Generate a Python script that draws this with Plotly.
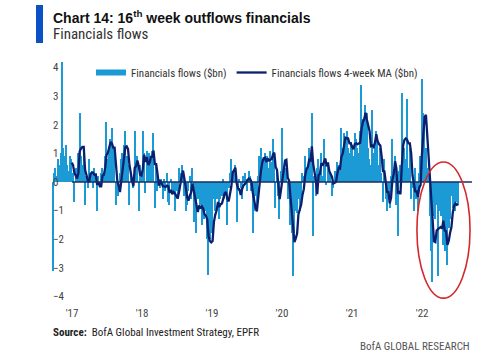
import pandas as pd
import plotly.graph_objects as go

# Weekly financials flows ($bn), first week = 2016-09-23
flows_2016 = [-3.1, 0.3, 0.5, 0.2, 0.8, 0.6, 1.0, 4.2, 1.2, 0.9, 1.3, 0.6, 0.4, 0.9]
flows_2017 = [0.8, 0.3, -0.7, 0.5, 0.4, 1.0, 2.4, 0.9, 0.6, 1.0, -0.8, 0.2, -0.2, 0.8,
              0.3, 0.4, -0.2, 0.5, 0.3, -1.0, 0.2, -0.1, 0.3, 0.5, 0.3, 0.9, 2.1, 0.8,
              1.2, 1.5, 1.9, 0.2, 1.2, -0.8, -0.4, -0.5, 0.3, 0.8, 1.0, 1.3, 1.8, 0.9,
              0.6, -0.8, 0.3, 0.1, -0.2, 1.8, 0.5, 0.9, -1.0, 0.6]
flows_2018 = [0.4, 1.8, 1.0, -0.4, 1.1, 0.8, 1.0, 0.6, 1.1, 1.7, -0.9, 0.6, -0.3, 0.1,
              -0.2, 0.1, -0.6, 0.1, -0.3, 0.3, -0.7, -0.8, 0.1, -0.3, -0.4, -1.0, -0.3,
              -0.6, 0.5, 0.3, 0.6, 0.2, -0.5, -1.0, -0.8, -0.3, 0.2, -0.6, 0.5, -1.4,
              -0.4, -1.8, -0.6, -0.5, -0.8, -1.5, -0.9, -1.3, -1.0, -2.0, -3.25, -2.0]
flows_2019 = [-1.2, -1.8, -0.6, -1.0, -0.6, -0.6, -1.3, -0.6, -0.5, 0.1, -0.6, -0.4,
              -1.5, -0.2, 0.3, 0.8, 0.4, 0.2, 0.6, -1.4, -0.3, 0.1, -0.2, -0.6, 0.2, 0.3,
              0.1, -0.3, 0.4, 0.2, -0.3, -1.8, -1.0, -0.5, -0.8, 0.2, 0.9, 1.2, 0.4, 0.8,
              1.0, 0.6, 0.9, 0.5, 1.1, 0.7, 1.5, 0.8, -0.9, 0.3, -0.5, -1.3]
flows_2020 = [0.4, 1.9, 0.2, 0.5, 0.5, -0.6, -0.2, -1.5, -1.8, -3.3, -1.8, -1.0, -1.1,
              -0.6, -1.0, -0.5, 0.3, 0.2, 0.9, 0.4, 0.6, 1.2, 0.8, 2.4, -1.9, 0.2, -0.5,
              0.5, 0.8, 0.3, 1.0, 0.2, 1.5, 0.6, -0.1, 0.7, 0.3, 0.2, -0.5, -0.2, 0.4,
              0.3, 0.7, 0.6, 0.3, 1.9, 1.2, 1.7, 1.4, 1.8, 1.2, 1.0]
flows_2021 = [1.4, 1.3, 0.9, 1.7, 1.5, 1.2, 1.0, 1.8, 3.4, 2.2, 1.4, 2.7, 2.4, 1.2, 0.8,
              0.6, 2.5, 1.0, 1.4, 1.8, 1.5, 0.6, 1.2, 0.3, -0.7, 0.8, -0.6, -1.0, -0.5,
              -0.9, 0.2, 1.5, 0.3, 0.9, -0.8, -1.9, 0.4, 0.6, 3.1, 1.0, 1.2, 0.8, 2.9,
              0.5, 1.2, -0.6, -0.2, -1.0, 0.5, -0.6, -1.0, 0.3]
flows_2022 = [0.9, 3.6, 2.4, 2.2, 1.2, 0.5, 0.3, -1.2, -2.4, -3.5, -1.2, -1.3, -0.8,
              -3.3, -1.0, -1.2, -1.0, -2.2, -2.4, -1.3, -2.9, -1.6, -1.3, -0.5, -0.9,
              -0.6, -1.0, -0.7, -0.8]

y_ticks = [-4, -3, -2, -1, 0, 1, 2, 3, 4]

flows = flows_2016 + flows_2017 + flows_2018 + flows_2019 + flows_2020 + flows_2021 + flows_2022
weeks = pd.date_range("2016-09-23", periods=len(flows), freq="7D")
series = pd.Series(flows, index=weeks)
ma4 = series.rolling(4).mean()
ma4 = ma4[ma4.index >= "2016-12-30"]

BAR = "#1b9ad6"
NAVY = "#0c1f6e"
NARROW = "Liberation Sans Narrow, Roboto Condensed, Arial Narrow, sans-serif"
WIDE = "Liberation Sans, Arial, sans-serif"

W, H = 500, 362
L, R, T, B = 50, 20, 59, 57


def px(x):
    return (x - L) / (W - L - R)


def py(y):
    return (H - B - y) / (H - T - B)


fig = go.Figure()
fig.add_trace(go.Bar(x=weeks, y=flows, marker=dict(color=BAR, line=dict(width=0)),
                     showlegend=False, name="Financials flows ($bn)"))
fig.add_trace(go.Scatter(x=[None], y=[None], mode="lines", line=dict(color=BAR, width=6),
                         name="Financials flows ($bn)"))
fig.add_trace(go.Scatter(x=ma4.index, y=ma4.values, mode="lines",
                         line=dict(color=NAVY, width=2.3),
                         name="Financials flows 4-week MA ($bn)"))

fig.update_layout(
    width=W, height=H,
    margin=dict(l=L, r=R, t=T, b=B),
    paper_bgcolor="white", plot_bgcolor="white",
    bargap=0,
    font=dict(family=NARROW, size=11, color="#333"),
    legend=dict(orientation="h", x=px(91), y=py(58), xanchor="left", yanchor="top",
                font=dict(family=NARROW, size=11, color="#333"),
                bgcolor="rgba(0,0,0,0)", itemwidth=30, tracegroupgap=0),
    xaxis=dict(range=["2016-09-08", "2022-10-30"], tickformat="'%y", dtick="M12",
               tick0="2017-01-01", showgrid=False, zeroline=False, showline=False,
               ticks="", tickfont=dict(size=11, color="#444")),
    yaxis=dict(range=[-4.3, 4.3], tickvals=y_ticks, showgrid=False, zeroline=False,
               showline=False, ticks="", ticklabelposition="inside",
               tickfont=dict(size=11, color="#444")),
)

# zero line (from the start of 2017)
fig.add_shape(type="line", xref="x", yref="y", x0="2017-01-01", x1="2022-09-18",
              y0=0, y1=0, line=dict(color="#1c2b5e", width=1.5), layer="above")
# red highlight ellipse
fig.add_shape(type="circle", xref="x", yref="y", x0="2021-12-05", x1="2022-09-08",
              y0=-4.06, y1=0.7, line=dict(color="#d3282c", width=1.6))
# title marker bar
fig.add_shape(type="rect", xref="paper", yref="paper", x0=px(36), x1=px(43),
              y0=py(43), y1=py(5), fillcolor="#0b50c4", line=dict(width=0))

fig.add_annotation(xref="paper", yref="paper", x=px(51), y=py(17), xanchor="left",
                   yanchor="middle", showarrow=False,
                   text="<b>Chart 14: 16<sup>th</sup> week outflows financials</b>",
                   font=dict(family=WIDE, size=14, color="#111"))
fig.add_annotation(xref="paper", yref="paper", x=px(51), y=py(34), xanchor="left",
                   yanchor="middle", showarrow=False, text="Financials flows",
                   font=dict(family=NARROW, size=15, color="#333"))
fig.add_annotation(xref="paper", yref="paper", x=px(51), y=py(332), xanchor="left",
                   yanchor="middle", showarrow=False,
                   text="<b>Source:</b>  BofA Global Investment Strategy, EPFR",
                   font=dict(family=NARROW, size=11, color="#222"))
fig.add_annotation(xref="paper", yref="paper", x=px(472), y=py(346), xanchor="right",
                   yanchor="middle", showarrow=False, text="BofA GLOBAL RESEARCH",
                   font=dict(family=NARROW, size=11, color="#555"))

fig.write_html("out.html", config={"displayModeBar": False},
               post_script="document.body.style.margin='0';")
